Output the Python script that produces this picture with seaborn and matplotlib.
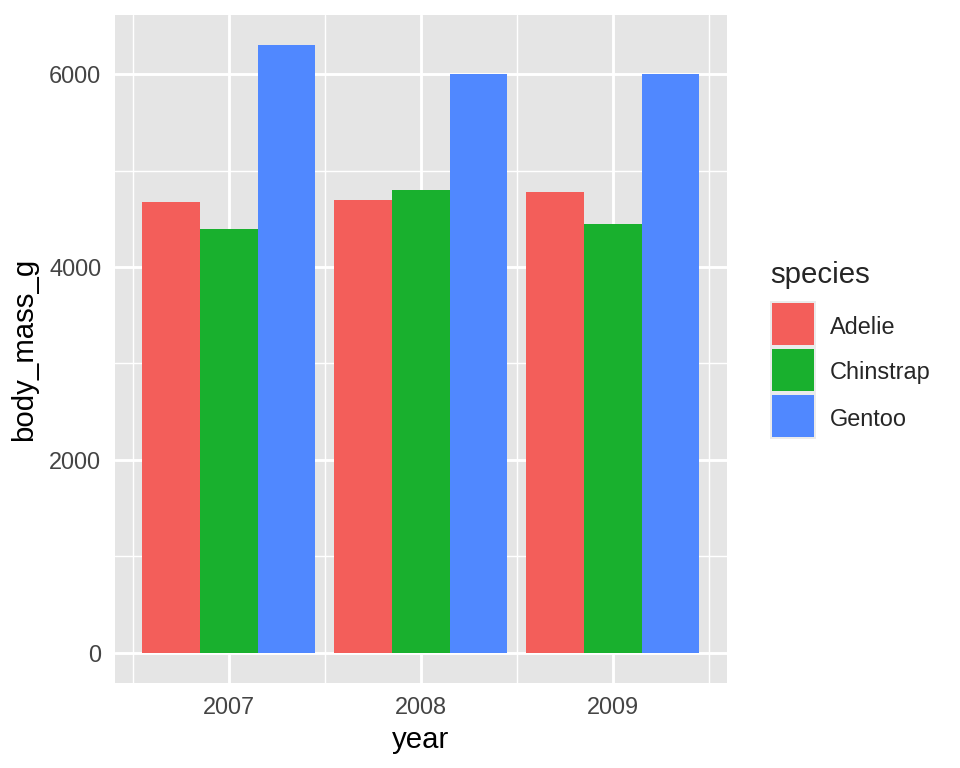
import matplotlib
matplotlib.use("Agg")
import matplotlib.pyplot as plt
import seaborn as sns
import pandas as pd
from matplotlib.patches import Rectangle

years = [2007, 2008, 2009]
species = ["Adelie", "Chinstrap", "Gentoo"]
adelie = [4675, 4700, 4775]
chinstrap = [4400, 4800, 4450]
gentoo = [6300, 6000, 6000]
colors = ["#F35E5A", "#19B02E", "#5088FF"]

rows = []
for sp, vals in zip(species, [adelie, chinstrap, gentoo]):
    for y, v in zip(years, vals):
        rows.append({"year": y, "species": sp, "body_mass_g": v})
df = pd.DataFrame(rows)

sns.set_style("white")
plt.rcParams["font.family"] = ["Liberation Sans", "DejaVu Sans"]

fig = plt.figure(figsize=(5, 4), dpi=192)
ax = fig.add_axes([114.5 / 960, 1 - 683 / 768, (727 - 114.5) / 960, (683 - 15) / 768])
ax.set_facecolor("#E5E5E5")

sns.barplot(data=df, x="year", y="body_mass_g", hue="species", hue_order=species,
            native_scale=True, width=0.9, gap=0, palette=colors, saturation=1,
            errorbar=None, ax=ax, legend=False, linewidth=0)

ax.set_xlim(2006.405, 2009.595)
ax.set_ylim(-315, 6615)
ax.set_xticks(years)
ax.set_xticklabels([str(y) for y in years])
ax.set_yticks([0, 2000, 4000, 6000])
ax.set_yticklabels(["0", "2000", "4000", "6000"])
ax.set_xticks([2006.5, 2007.5, 2008.5, 2009.5], minor=True)
ax.set_yticks([1000, 3000, 5000], minor=True)
ax.set_axisbelow(True)
ax.grid(which="major", color="white", linewidth=1.07)
ax.grid(which="minor", color="white", linewidth=0.53)
for s in ax.spines.values():
    s.set_visible(False)
ax.tick_params(which="major", length=2.75, width=1.07, color="#333333",
               labelsize=8.8, labelcolor="#444444", pad=2.2)
ax.tick_params(which="minor", length=0)
ax.set_xlabel("year", fontsize=11, color="black", labelpad=2.5)
ax.set_ylabel("body_mass_g", fontsize=11, color="black", labelpad=4)

# legend
W, H = 960, 768
def fx(px):
    return px / W
def fy(py):
    return 1 - py / H

fig.text(fx(770), fy(275), "species", fontsize=11, ha="left", va="center")
key_top = 301
key = 46
for i, (sp, c) in enumerate(zip(species, colors)):
    t = key_top + i * key
    fig.patches.append(Rectangle((fx(770), fy(t + key)), key / W, key / H,
                                 transform=fig.transFigure, facecolor="#EBEBEB",
                                 edgecolor="none"))
    fig.patches.append(Rectangle((fx(771.8), fy(t + key - 1.8)), (key - 3.6) / W, (key - 3.6) / H,
                                 transform=fig.transFigure, facecolor=c,
                                 edgecolor="none"))
    fig.text(fx(830), fy(t + key / 2 + 3), sp, fontsize=8.8, ha="left", va="center")

fig.savefig("out.png", dpi=192)
